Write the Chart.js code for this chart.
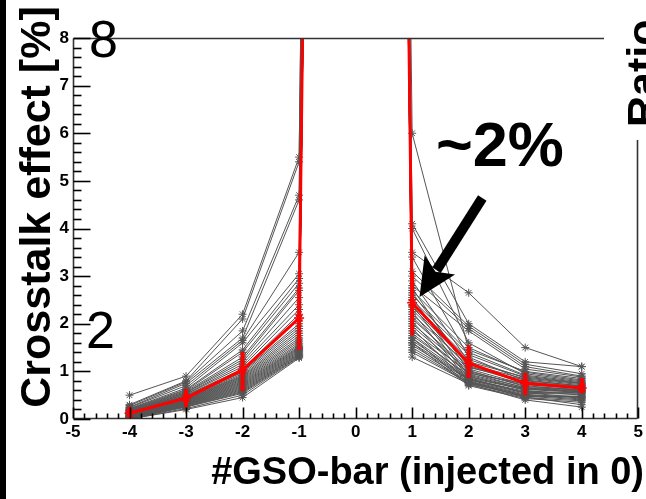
<!DOCTYPE html>
<html>
<head>
<meta charset="utf-8">
<script src="https://cdn.jsdelivr.net/npm/chart.js@4"></script>
<style>
  body { margin: 0; background: #fff; }
  canvas { display: block; }
</style>
</head>
<body>
<canvas id="crosstalk" width="646" height="499"></canvas>
<script>
// Positions of the GSO bars (injection in bar 0)
const barPositions = [-4, -3, -2, -1, 0, 1, 2, 3, 4];
const xTickLabels = ["-5", "-4", "-3", "-2", "-1", "0", "1", "2", "3", "4", "5"];
const yTickLabels = ["0", "1", "2", "3", "4", "5", "6", "7", "8"];

// Injected bar is far off scale (~100 %)
const injectedValue = 100;

// One value per channel, for each neighbouring bar
const barM4 = [0.50, 0.30, 0.28, 0.25, 0.24, 0.22, 0.21, 0.20, 0.19, 0.18, 0.17, 0.16, 0.15, 0.15, 0.14, 0.13, 0.12, 0.12, 0.11, 0.10,
               0.10, 0.09, 0.08, 0.08, 0.07, 0.07, 0.06, 0.05, 0.05, 0.04, 0.04, 0.03, 0.03, 0.02, 0.02, 0.01, 0.01, 0.00, 0.00, 0.00];
const barM3 = [0.90, 0.80, 0.78, 0.75, 0.70, 0.65, 0.62, 0.60, 0.58, 0.56, 0.55, 0.53, 0.52, 0.50, 0.49, 0.48, 0.46, 0.45, 0.44, 0.43,
               0.42, 0.41, 0.40, 0.39, 0.38, 0.37, 0.36, 0.35, 0.34, 0.33, 0.32, 0.31, 0.30, 0.29, 0.28, 0.27, 0.26, 0.25, 0.22, 0.20];
const barM2 = [2.20, 2.10, 1.85, 1.70, 1.65, 1.60, 1.45, 1.40, 1.30, 1.25, 1.20, 1.15, 1.10, 1.05, 1.02, 1.00, 0.98, 0.95, 0.92, 0.90,
               0.88, 0.86, 0.84, 0.82, 0.80, 0.78, 0.76, 0.74, 0.72, 0.70, 0.68, 0.66, 0.64, 0.62, 0.60, 0.58, 0.56, 0.54, 0.50, 0.45];
const barM1 = [5.50, 5.40, 4.70, 4.60, 3.50, 3.05, 2.95, 2.85, 2.75, 2.70, 2.55, 2.40, 2.30, 2.20, 2.10, 2.00, 1.95, 1.90, 1.85, 1.80,
               1.75, 1.70, 1.66, 1.62, 1.58, 1.55, 1.52, 1.50, 1.48, 1.46, 1.44, 1.42, 1.40, 1.38, 1.36, 1.35, 1.33, 1.31, 1.30, 1.28];
const barP1 = [6.00, 4.10, 4.00, 3.50, 3.40, 3.10, 3.00, 2.90, 2.80, 2.75, 2.70, 2.65, 2.60, 2.55, 2.50, 2.45, 2.40, 2.35, 2.30, 2.25,
               2.20, 2.15, 2.10, 2.05, 2.00, 1.95, 1.90, 1.85, 1.80, 1.75, 1.70, 1.70, 1.65, 1.60, 1.60, 1.55, 1.50, 1.45, 1.40, 1.30];
const barP2 = [1.45, 2.00, 1.60, 2.65, 1.30, 1.95, 1.90, 1.20, 1.85, 1.00, 1.50, 1.10, 1.40, 0.90, 1.35, 1.25, 0.85, 1.15, 1.08, 0.80,
               1.12, 0.96, 1.05, 0.78, 1.02, 0.94, 0.75, 0.98, 0.88, 0.92, 0.72, 0.86, 0.84, 0.83, 0.70, 0.82, 0.79, 0.77, 0.76, 0.74];
const barP3 = [1.00, 1.20, 0.95, 1.50, 0.80, 1.15, 1.10, 0.88, 1.05, 0.70, 0.98, 0.76, 0.92, 0.60, 0.90, 0.86, 0.55, 0.84, 0.82, 0.52,
               0.78, 0.74, 0.72, 0.50, 0.68, 0.66, 0.48, 0.65, 0.64, 0.63, 0.45, 0.62, 0.58, 0.56, 0.43, 0.54, 0.49, 0.47, 0.46, 0.40];
const barP4 = [0.85, 1.10, 0.80, 1.10, 0.70, 0.95, 0.90, 0.75, 0.88, 0.60, 0.82, 0.65, 0.78, 0.50, 0.76, 0.74, 0.45, 0.72, 0.69, 0.44,
               0.68, 0.66, 0.64, 0.42, 0.62, 0.61, 0.40, 0.59, 0.58, 0.57, 0.38, 0.56, 0.55, 0.54, 0.35, 0.52, 0.48, 0.47, 0.30, 0.25];

// Mean over channels and its spread
const meanValues = [0.12, 0.44, 1.03, 2.12, injectedValue, 2.44, 1.17, 0.75, 0.65];
const errLow  = [0.00, 0.25, 0.59, 1.45, null, 1.76, 0.86, 0.50, 0.54];
const errHigh = [0.25, 0.63, 1.41, 2.77, null, 3.09, 1.55, 0.97, 0.86];

// Arrow pointing at bar 1 (axis coordinates)
const arrowFrom = { x: 2.24, y: 4.64 };
const arrowTo = { x: 1.13, y: 2.56 };

const columns = [barM4, barM3, barM2, barM1, null, barP1, barP2, barP3, barP4];
const FONT = "'Liberation Sans', Arial, Helvetica, sans-serif";
Chart.defaults.font.family = FONT;

// Red mean goes first so it is painted above the channels
const datasets = [{
    data: barPositions.map((x, k) => ({ x: x, y: meanValues[k] })),
    borderColor: "#ff0000",
    backgroundColor: "#ff0000",
    borderWidth: 3,
    pointStyle: "star",
    pointRadius: 5,
    pointBorderWidth: 1.5,
    tension: 0
}];

for (let i = 0; i < barM4.length; i++) {
    datasets.push({
        data: barPositions.map((x, k) => ({ x: x, y: columns[k] ? columns[k][i] : injectedValue })),
        borderColor: "#555555",
        backgroundColor: "#555555",
        borderWidth: 1,
        pointStyle: "star",
        pointRadius: 4,
        pointBorderWidth: 1,
        tension: 0
    });
}

function line(ctx, xa, ya, xb, yb) {
    ctx.beginPath();
    ctx.moveTo(xa, ya);
    ctx.lineTo(xb, yb);
    ctx.stroke();
}

// ROOT-like frame, inner ticks, error bars and labels
const rootStyle = {
    id: "rootStyle",
    beforeDraw(chart) {
        const ctx = chart.ctx;
        ctx.save();
        ctx.fillStyle = "#fff";
        ctx.fillRect(0, 0, chart.width, chart.height);
        ctx.fillStyle = "#000";
        ctx.fillRect(0, 0, 6, chart.height);
        ctx.restore();
    },
    afterDatasetsDraw(chart) {
        const { ctx, chartArea: a, scales: { x, y } } = chart;
        ctx.save();
        ctx.setLineDash([]);

        // error bars
        ctx.strokeStyle = "#ff0000";
        ctx.lineWidth = 4;
        barPositions.forEach((bx, k) => {
            if (errLow[k] === null) return;
            const px = x.getPixelForValue(bx);
            line(ctx, px, Math.min(y.getPixelForValue(errLow[k]), a.bottom), px, y.getPixelForValue(errHigh[k]));
        });

        // frame
        ctx.strokeStyle = "#333";
        ctx.lineWidth = 1.6;
        const L = Math.round(a.left) + 0.5, R = Math.round(a.right) - 0.5;
        const T = Math.round(a.top) + 0.5, B = Math.round(a.bottom) - 0.5;
        line(ctx, L, T, Math.round(x.getPixelForValue(4.4)), T);
        line(ctx, L, T, L, B);
        line(ctx, L, B, R, B);
        line(ctx, R, B, R, Math.round(y.getPixelForValue(5.85)));

        // inner ticks
        ctx.strokeStyle = "#000";
        ctx.lineWidth = 1.6;
        for (let k = 0; k <= 40; k++) {
            const py = Math.round(y.getPixelForValue(k / 5)) + 0.5;
            line(ctx, L, py, L + (k % 5 === 0 ? 17 : 8), py);
        }
        for (let k = -25; k <= 25; k++) {
            const px = Math.round(x.getPixelForValue(k / 5)) + 0.5;
            line(ctx, px, B, px, B - (Math.abs(k) % 5 === 0 ? 11 : 5));
        }
        ctx.restore();
    },
    afterDraw(chart) {
        const { ctx, scales: { x, y } } = chart;
        ctx.save();
        ctx.fillStyle = "#000";

        // big overlay numbers
        ctx.font = "52px " + FONT;
        ctx.textAlign = "left";
        ctx.textBaseline = "alphabetic";
        ctx.fillText("8", 89, 57);
        ctx.fillText("2", 86, 348);

        ctx.font = "bold 63px " + FONT;
        ctx.fillText("~2%", 436, 166);

        // arrow
        const x0 = x.getPixelForValue(arrowFrom.x), y0 = y.getPixelForValue(arrowFrom.y);
        const x1 = x.getPixelForValue(arrowTo.x), y1 = y.getPixelForValue(arrowTo.y);
        const len = Math.hypot(x1 - x0, y1 - y0);
        const ux = (x1 - x0) / len, uy = (y1 - y0) / len;
        const nx = -uy, ny = ux;
        const headLen = 38, headHalf = 18;
        const bx = x1 - ux * headLen, by = y1 - uy * headLen;
        ctx.strokeStyle = "#000";
        ctx.lineWidth = 10;
        line(ctx, x0, y0, bx + ux * 6, by + uy * 6);
        ctx.beginPath();
        ctx.moveTo(x1, y1);
        ctx.lineTo(bx + nx * headHalf, by + ny * headHalf);
        ctx.lineTo(bx + ux * 8, by + uy * 8);
        ctx.lineTo(bx - nx * headHalf, by - ny * headHalf);
        ctx.closePath();
        ctx.fill();

        // axis titles
        ctx.font = "bold 38px " + FONT;
        ctx.textAlign = "right";
        ctx.fillText("#GSO-bar (injected in 0)", 644, 484);

        ctx.font = "bold 43px " + FONT;
        ctx.save();
        ctx.translate(50, 207);
        ctx.rotate(-Math.PI / 2);
        ctx.textAlign = "center";
        ctx.fillText("Crosstalk effect [%]", 0, 0);
        ctx.restore();

        ctx.save();
        ctx.translate(657, 127);
        ctx.rotate(-Math.PI / 2);
        ctx.textAlign = "left";
        ctx.fillText("Ratio", 0, 0);
        ctx.restore();

        ctx.restore();
    }
};

new Chart(document.getElementById("crosstalk"), {
    type: "line",
    data: { datasets: datasets },
    options: {
        responsive: false,
        animation: false,
        events: [],
        layout: { padding: { left: 0, right: 7, top: 38, bottom: 0 } },
        plugins: { legend: { display: false }, tooltip: { enabled: false } },
        scales: {
            x: {
                type: "linear",
                min: -5,
                max: 5,
                grid: { display: false, drawTicks: false },
                border: { display: false },
                ticks: {
                    stepSize: 1,
                    autoSkip: false,
                    maxRotation: 0,
                    padding: 3,
                    color: "#000",
                    font: { size: 17, weight: "bold" },
                    callback: (v) => xTickLabels[v + 5]
                },
                afterFit: (s) => { s.height = 80; }
            },
            y: {
                min: 0,
                max: 8,
                grid: { display: false, drawTicks: false },
                border: { display: false },
                ticks: {
                    stepSize: 1,
                    padding: 4,
                    color: "#000",
                    font: { size: 17, weight: "bold" },
                    callback: (v) => yTickLabels[v]
                },
                afterFit: (s) => { s.width = 73; }
            }
        }
    },
    plugins: [rootStyle]
});
</script>
</body>
</html>
